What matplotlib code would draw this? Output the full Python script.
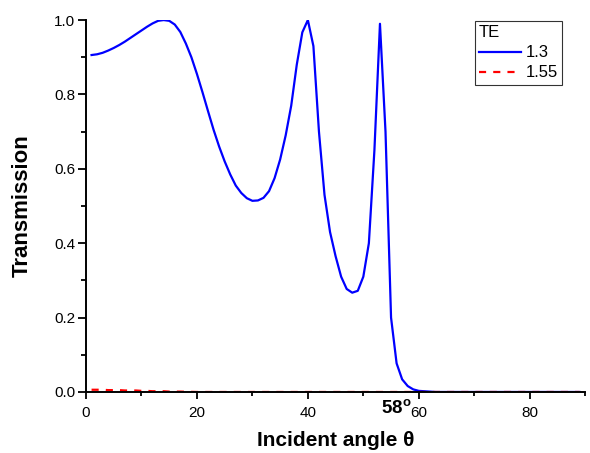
import matplotlib
matplotlib.use("Agg")
import matplotlib.pyplot as plt
from matplotlib.ticker import MultipleLocator, FormatStrFormatter

plt.rcParams["font.family"] = ["Liberation Sans", "DejaVu Sans"]
plt.rcParams["mathtext.fontset"] = "custom"
plt.rcParams["mathtext.bf"] = "Liberation Sans:bold"
plt.rcParams["mathtext.rm"] = "Liberation Sans"

# incident angle (deg) and transmission
angle = list(range(1, 90))
te_13 = [0.906, 0.908, 0.912, 0.918, 0.925, 0.933, 0.942, 0.952, 0.962, 0.972,
         0.982, 0.991, 0.998, 1.000, 0.998, 0.988, 0.968, 0.937, 0.900, 0.855,
         0.806, 0.755, 0.705, 0.660, 0.620, 0.585, 0.555, 0.535, 0.521, 0.514,
         0.515, 0.522, 0.540, 0.575, 0.625, 0.690, 0.770, 0.880, 0.967, 1.000,
         0.930, 0.700, 0.530, 0.430, 0.365, 0.310, 0.277, 0.267, 0.272, 0.310,
         0.400, 0.650, 0.990, 0.700, 0.200, 0.077, 0.034, 0.016, 0.007, 0.003,
         0.002, 0.001] + [0.0] * 27
te_155 = [0.006, 0.006, 0.006, 0.005, 0.005, 0.005, 0.004, 0.004, 0.004, 0.003,
          0.003, 0.002, 0.002, 0.002, 0.001, 0.001, 0.001, 0.0005, 0.0003] + [0.0] * 70

fig = plt.figure(figsize=(5.9, 4.53), dpi=100)
ax = fig.add_axes([0.1458, 0.1347, 0.846, 0.821])

ax.plot(angle, te_13, color="#0000ff", lw=1.6, label="1.3")
ax.plot(angle, te_155, color="#ff0000", lw=1.6, ls=(0, (3.2, 3.2)), label="1.55")

ax.set_xlim(0, 90)
ax.set_ylim(0, 1.0)
ax.xaxis.set_major_locator(MultipleLocator(20))
ax.xaxis.set_minor_locator(MultipleLocator(10))
ax.yaxis.set_major_locator(MultipleLocator(0.2))
ax.yaxis.set_minor_locator(MultipleLocator(0.1))
ax.yaxis.set_major_formatter(FormatStrFormatter("%.1f"))

for side in ("top", "right"):
    ax.spines[side].set_visible(False)
for side in ("left", "bottom"):
    ax.spines[side].set_linewidth(1.4)

ax.tick_params(which="major", direction="out", width=1.3, labelsize=11)
ax.tick_params(axis="y", which="major", length=5.8, pad=2)
ax.tick_params(axis="y", which="minor", length=3.5, width=1.3)
ax.tick_params(axis="x", which="major", length=5, pad=5)
ax.tick_params(axis="x", which="minor", length=3, width=1.3)

ax.set_xlabel("Incident angle θ", fontsize=15, fontweight="bold", labelpad=8)
ax.set_ylabel("Transmission", fontsize=16, fontweight="bold", labelpad=15)

ax.text(58.7, -0.056, r"$\mathbf{58^o}$", fontsize=13.5, ha="right", va="baseline",
        clip_on=False)

leg = ax.legend(title="TE", loc="upper right", bbox_to_anchor=(0.954, 0.997),
                fontsize=12, title_fontsize=12, alignment="left",
                fancybox=False, frameon=True, handlelength=2.5,
                borderaxespad=0, borderpad=0.25, labelspacing=0.3,
                handletextpad=0.3)
leg.get_frame().set_edgecolor("black")
leg.get_frame().set_linewidth(0.8)

fig.savefig("out.png", dpi=100)
